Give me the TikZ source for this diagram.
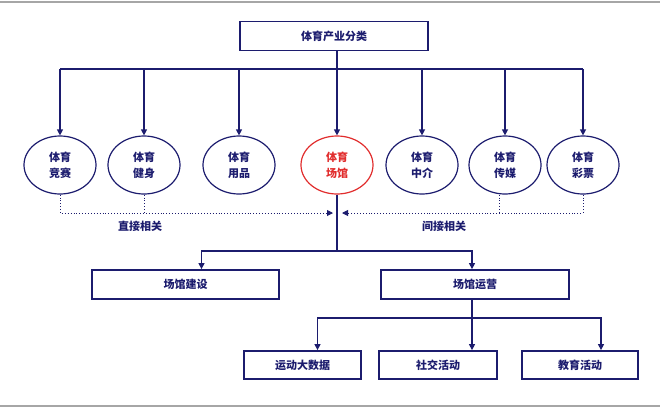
\documentclass[tikz,border=0pt]{standalone}
\usepackage{fontspec}
\usepackage{tikz}
\usetikzlibrary{arrows.meta,shapes.geometric,calc}
\newfontfamily\cjk{Noto Sans CJK SC}
\definecolor{navy}{RGB}{28,28,110}
\definecolor{hotred}{RGB}{225,45,45}
\tikzset{conn/.style={navy,line width=1.2pt},
         tip/.style={-{Triangle[length=6pt,width=6pt]}}}

\begin{document}
\begin{tikzpicture}[x=1pt,y=-1pt,
                    font=\cjk\bfseries\fontsize{11}{16}\selectfont,
                    box node/.style={draw=navy,line width=1.8pt,fill=white,text=navy,minimum height=29pt,inner sep=0pt},
                    main node/.style={ellipse,draw=navy,line width=1.2pt,text=navy,minimum width=72pt,minimum height=58pt,align=center,inner sep=0pt}]
\useasboundingbox (0,0) rectangle (660,408);
\draw[gray!70,line width=1.5pt] (0,2) -- (660,2);
\draw[gray!70,line width=1.5pt] (0,406) -- (660,406);

% top
\node[box node,minimum width=188pt] (Top) at (334,36) {体育产业分类};
\coordinate (BusL) at (60,69);
\coordinate (BusR) at (583,69);
\draw[conn] (Top.south -| 337,0) -- (337,69);
\draw[conn] (BusL) -- (BusR);

% categories
\foreach \name/\x/\txt in {Jingsai/60/{体育\\竞赛},Jianshen/144/{体育\\健身},Yongpin/239/{体育\\用品},
                           Zhongjie/422/{体育\\中介},Chuanmei/505/{体育\\传媒},Caipiao/583/{体育\\彩票}}
   {\node[main node] (\name) at (\x,165) {\txt};
    \draw[conn,tip] (\name |- BusL) -- (\name);}
\node[main node,draw=hotred,text=hotred] (Changguan) at (337,165) {体育\\场馆};
\draw[conn,tip] (Changguan |- BusL) -- (Changguan);

% related
\coordinate (DotL) at (333,213);
\coordinate (DotR) at (342,213);
\draw[navy,line width=0.9pt,dotted] (Jianshen) -- (Jianshen |- DotL);
\draw[navy,line width=0.9pt,dotted] (Chuanmei.south -| 499,0) -- (499,213);
\draw[navy,line width=0.9pt,dotted,tip] (Jingsai) -- (Jingsai |- DotL) -- (DotL);
\draw[navy,line width=0.9pt,dotted,tip] (Caipiao) -- (Caipiao |- DotR) -- (DotR);
\node[text=navy] (DirectLabel) at (140,226) {直接相关};
\node[text=navy] (IndirectLabel) at (444,226) {间接相关};

% venue
\node[box node,minimum width=187pt] (Jianshe) at (185.5,284.5) {场馆建设};
\node[box node,minimum width=188pt] (Yunying) at (475,284.5) {场馆运营};
\coordinate (Hub) at (337,251);
\draw[conn] (Changguan) -- (Hub);
\draw[conn,tip] (Hub) -| ([xshift=16pt]Jianshe.north);
\draw[conn,tip] (Hub) -| ([xshift=-3pt]Yunying.north);

% operation
\node[box node,minimum width=117pt,minimum height=28pt] (Shuju) at (302.5,365) {运动大数据};
\node[box node,minimum width=118pt,minimum height=28pt] (Shejiao) at (438,365) {社交活动};
\node[box node,minimum width=116pt,minimum height=28pt] (Jiaoyu) at (580,365) {教育活动};
\coordinate (OpHub) at (472,318);
\draw[conn] ([xshift=-3pt]Yunying.south) -- (OpHub);
\draw[conn,tip] (OpHub) -| ([xshift=15pt]Shuju.north);
\draw[conn,tip] (OpHub) -- ([xshift=34pt]Shejiao.north);
\draw[conn,tip] (OpHub) -| ([xshift=21pt]Jiaoyu.north);
\end{tikzpicture}
\end{document}
